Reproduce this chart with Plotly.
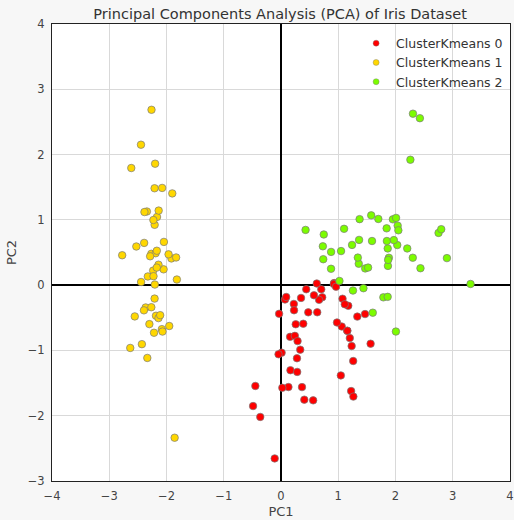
import plotly.graph_objects as go

# Cluster 1 (yellow) PC coordinates
c1_pc1 = [-2.265, -2.081, -2.364, -2.299, -2.390, -2.076, -2.444, -2.233, -2.335, -2.184,
          -2.166, -2.326, -2.218, -2.633, -2.199, -2.262, -2.208, -2.190, -1.899, -2.343,
          -1.914, -2.207, -2.774, -1.819, -2.227, -1.952, -2.051, -2.169, -2.140, -2.265,
          -2.140, -1.832, -2.615, -2.446, -2.110, -2.208, -2.045, -2.527, -2.430, -2.170,
          -2.286, -1.858, -2.554, -1.964, -2.137, -2.070, -2.385, -2.394, -2.229, -2.204]
c1_pc2 = [0.480, -0.674, -0.342, -0.597, 0.647, 1.489, 0.048, 0.223, -1.115, -0.469,
          1.044, 0.133, -0.729, -0.962, 1.860, 2.686, 1.484, 0.489, 1.405, 1.128,
          0.409, 0.924, 0.458, 0.086, 0.137, -0.626, 0.242, 0.527, 0.313, -0.338,
          -0.505, 0.424, 1.794, 2.151, -0.460, -0.206, 0.662, 0.592, -0.904, 0.269,
          0.442, -2.337, -0.479, 0.472, 1.142, -0.711, 1.120, -0.386, 0.998, 0.009]

# Cluster 0 (red)
c0_pc1 = [0.407, 1.075, 0.389, -0.488, 0.928, 0.011, -0.110, 0.441, 0.562, 0.720,
          -0.033, 0.350, 0.159, 1.225, 0.165, 0.476, 1.234, 0.633, 0.703, 0.665,
          -0.043, 0.130, 0.023, 0.242, 1.061, 0.224, 1.045, 0.070, 0.283, 0.279,
          0.625, 0.336, -0.362, 0.289, 0.091, 0.228, 0.576, -0.448, 0.257,
          1.158, 0.367, 1.261, 1.468, 1.264, 0.978, 1.333, 1.175, 1.114, 1.202,
          0.922, 1.158, 1.565, 0.961]
c0_pc2 = [-1.754, -0.208, -0.591, -1.852, 0.032, -1.034, -2.654, -0.063, -1.765, -0.186,
          -0.439, -0.196, -0.792, -1.622, -1.303, -0.417, -0.933, -0.416, -0.063, -0.225,
          -1.059, -1.561, -1.572, -0.777, -0.634, -0.288, -1.383, -0.220, -1.329, -1.120,
          0.025, -0.988, -2.019, -0.857, -0.181, -0.385, -0.155, -1.544, -0.599,
          -0.699, -1.562, -1.162, -0.443, -1.707, -0.572, -0.482, -0.316, -0.293, -0.811,
          0.017, -0.699, -0.897, -0.024]

# Cluster 2 (green)
c2_pc1 = [1.102, 0.731, 1.241, 0.747, 0.875, 0.738, 0.874, 1.257, 1.358, 0.429, 1.049,
          1.845, 2.205, 1.440, 1.868, 2.752, 2.302, 2.007, 2.260, 1.364, 1.603, 1.884,
          1.590, 1.471, 2.426, 3.311, 2.038, 2.898, 1.700, 1.954, 1.021, 1.788, 1.864,
          2.436, 2.305, 1.863, 2.799, 1.576, 1.342, 1.849, 2.031, 1.971, 2.050, 2.010,
          1.871, 1.521, 1.373]
c2_pc2 = [0.863, 0.595, 0.616, 0.776, 0.509, 0.397, 0.251, -0.083, 0.328, 0.846, 0.522,
          0.870, 0.562, -0.047, 0.295, 0.800, 0.420, -0.711, 1.921, 0.693, -0.422, 0.419,
          0.676, 0.256, 2.557, 0.018, 0.911, 0.414, 1.014, 1.008, 0.064, -0.187, 0.562,
          0.259, 2.626, -0.179, 0.857, 1.069, 0.422, 0.676, 0.614, 0.690, 0.840, 1.030,
          0.387, 0.269, 1.011]

names = ["ClusterKmeans 0", "ClusterKmeans 1", "ClusterKmeans 2"]
colors = ["#ff0000", "#ffd700", "#7cfc00"]
data = [(c0_pc1, c0_pc2), (c1_pc1, c1_pc2), (c2_pc1, c2_pc2)]

fig = go.Figure()
for (xs, ys), name, col in zip(data, names, colors):
    fig.add_trace(go.Scatter(
        x=xs, y=ys, mode="markers", name=name, showlegend=False,
        marker=dict(size=7.5, color=col, line=dict(color="#7a7a7a", width=0.7)),
        hoverinfo="x+y"))
for name, col in zip(names, colors):
    fig.add_trace(go.Scatter(
        x=[None], y=[None], mode="markers", name=name,
        marker=dict(size=6, color=col, line=dict(color="#7a7a7a", width=0.4))))

font_fam = "DejaVu Sans, sans-serif"
fig.update_layout(
    width=514, height=520,
    margin=dict(l=52, r=4, t=24, b=39, autoexpand=False),
    paper_bgcolor="#f7f7f7",
    plot_bgcolor="#ffffff",
    font=dict(family=font_fam, size=12, color="#333333"),
    title=dict(text="Principal Components Analysis (PCA) of Iris Dataset",
               x=0.545, xanchor="center", y=0.983, yanchor="top",
               font=dict(size=14.5, color="#333333")),
    showlegend=True,
    legend=dict(x=0.664, y=0.99, xanchor="left", yanchor="top",
                bgcolor="rgba(0,0,0,0)", borderwidth=0,
                font=dict(size=12.5, color="#333333"),
                itemwidth=30, tracegroupgap=0),
    xaxis=dict(range=[-4, 4], dtick=1, showgrid=True, gridcolor="#d9d9d9", gridwidth=1,
               zeroline=True, zerolinecolor="#000000", zerolinewidth=2,
               showline=True, mirror=True, linecolor="#222222", linewidth=1.2,
               ticks="outside", ticklen=4, tickcolor="rgba(0,0,0,0)",
               tickfont=dict(size=11.5, color="#444444"),
               title=dict(text="PC1", font=dict(size=13, color="#444444"), standoff=4)),
    yaxis=dict(range=[-3, 4], dtick=1, showgrid=True, gridcolor="#d9d9d9", gridwidth=1,
               zeroline=True, zerolinecolor="#000000", zerolinewidth=2,
               showline=True, mirror=True, linecolor="#222222", linewidth=1.2,
               ticks="outside", ticklen=4, tickcolor="rgba(0,0,0,0)",
               tickfont=dict(size=11.5, color="#444444"),
               title=dict(text="PC2", font=dict(size=13, color="#444444"), standoff=8)),
)

fig.write_html("out.html", config={"displayModeBar": False},
               post_script="document.body.style.margin='0px';")
